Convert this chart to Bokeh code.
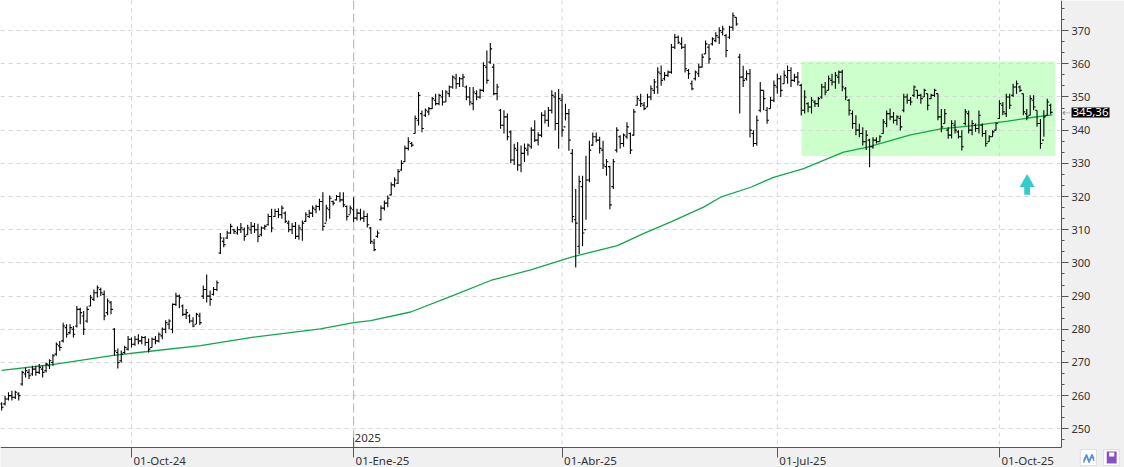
from bokeh.plotting import figure
from bokeh.models import (Range1d, SingleIntervalTicker, FixedTicker, Span, Label,
                          BoxAnnotation, ColumnDataSource)
from bokeh.embed import file_html
from bokeh.resources import INLINE

# ---------------- data (daily OHLC, one entry per trading day) ----------------
high = [258, 260, 261, 261.5, 261.5, 261, 267.5, 268.5, 268, 269, 269, 269.5, 269, 270, 271, 272.5, 276, 276.5, 282, 281.5,
        281.5, 281, 287, 286.5, 285.5, 286.9, 290.3, 292, 293.2, 292.5, 291.7, 289.3, 288.5, 280.4, 274.2, 273.6, 275, 278, 277.5, 278,
        278.5, 278, 278, 277.2, 277.5, 278, 279, 280.5, 282.7, 283, 287.8, 291, 290.5, 287.5, 286.1, 284.5, 283.6, 285, 285, 293.2,
        296.5, 291.7, 292.7, 294.7, 309, 307.7, 309.7, 311.8, 310.3, 311, 312, 310.7, 311.5, 312.3, 312, 311.8, 311, 311.5, 314.8, 316.3,
        316.3, 316.5, 317.3, 315.5, 312.8, 312, 312.3, 311.5, 312.8, 315.3, 316, 317.3, 317.5, 319.3, 321.3, 317.5, 320.3, 318.8, 320.5, 321.3,
        321.3, 317.3, 317.3, 319.8, 316.3, 316.3, 315.8, 315, 310.8, 307.2, 309.8, 317.3, 318.8, 320.3, 324.3, 325.8, 328.3, 330.9, 335.4, 337.9,
        336.4, 344.4, 351.5, 345.9, 346.5, 347, 350, 351, 351, 352, 352, 353.5, 356.5, 357, 356, 357, 353.5, 353, 353, 352,
        352.5, 360.5, 364, 366.3, 360, 354, 346.4, 346, 345, 340, 335.9, 336.4, 335.4, 336, 336, 340.9, 343, 339.4, 345.4, 346,
        347, 352, 351.5, 352.4, 351, 348, 346.4, 334.3, 322.3, 326.3, 326.3, 332.3, 336.8, 339.3, 339.3, 338, 336.8, 331.3, 329.3, 331.3,
        340.9, 338.5, 339, 342.4, 339.3, 346.4, 350.4, 351, 348.5, 351, 353.5, 355.4, 359, 359.5, 357.5, 358, 366, 369, 368.5, 368,
        366, 358.4, 355, 358, 360, 363, 367, 366, 368, 369.5, 371, 371.5, 369, 371.5, 375.5, 374, 363, 359.4, 358, 358.4,
        340, 344.4, 354.5, 352, 347, 350, 355, 357, 356.5, 358, 359.5, 359, 357, 357.5, 354, 352, 348.4, 350, 349, 350,
        354, 354.5, 356.5, 357, 357.5, 358, 358.2, 353, 349.4, 345.9, 344.5, 341.9, 340.9, 340, 337.4, 337.9, 337.9, 338.5, 343.4, 345.9,
        346.5, 345.5, 344.5, 344.4, 351, 351, 350, 353.5, 352, 351, 352.5, 351, 351, 352.5, 351, 346.4, 346.4, 340.9, 343, 343,
        340, 340, 346.4, 345.9, 343, 342, 345.9, 342, 340, 338.5, 340, 342.4, 349, 348.5, 351, 351, 354, 355, 353.5, 351,
        346.4, 350.5, 350.5, 346, 343.4, 346, 349.5, 348]
low = [255.5, 257, 258.5, 258.5, 259, 258.5, 263, 265.5, 265, 266, 266, 266.5, 265.5, 267, 268, 269, 272, 273.5, 276, 277.5,
       278.5, 277.5, 280.5, 281.5, 278.3, 282, 286.9, 288.5, 289.6, 290, 282.7, 284.2, 284.5, 272, 268.2, 270, 272.6, 273.6, 274.5, 275,
       275.5, 275.5, 275, 273, 274.5, 275.5, 276, 277, 278.8, 280, 278.8, 287, 286.3, 284, 283.1, 281.8, 280.6, 281.6, 281.3, 289.1,
       288.1, 287.1, 290.2, 291.5, 302.7, 304.7, 307.2, 308.7, 308.7, 308.5, 309, 306.7, 308.5, 308.7, 309, 306.2, 308, 310, 311.3, 309.2,
       313.8, 313.5, 313.3, 312, 309.2, 308.7, 307.2, 307, 306.7, 312.3, 313.5, 313.8, 315, 315.8, 309.7, 312.5, 313.3, 317.3, 318.8, 318.3,
       316.8, 312.8, 314.8, 312.3, 312.8, 312.8, 312.3, 310.7, 305.7, 303.5, 307.6, 312.8, 315.8, 316.8, 320.3, 322.8, 323.8, 327.8, 330.4, 333.9,
       334.9, 338.9, 341.4, 339.4, 344, 344.5, 346.4, 347.4, 347.5, 347.4, 348.5, 350, 352.5, 352.5, 353, 353, 349, 347.4, 346, 349,
       349.5, 351.5, 354, 360, 350.5, 349, 340.4, 339, 337, 330, 329.5, 327.8, 327.3, 330.4, 332.4, 334.4, 336.4, 335.4, 337.9, 342,
       341, 345, 340, 334.4, 338, 342.9, 333.8, 312.2, 298.6, 302.7, 305, 313, 324.3, 335.3, 336.3, 333, 328.3, 326.3, 316.2, 322.3,
       333.3, 334.5, 335, 337.4, 332.8, 338.3, 347.4, 347, 346, 347, 349, 350.9, 351, 353.4, 355, 356, 357, 364.5, 366, 364.5,
       357.4, 355.5, 352, 355, 356, 359, 363, 360, 365.5, 366.5, 366, 368.5, 362, 367.5, 370, 371.5, 345, 353, 355, 337.8,
       335, 335.3, 345.4, 346, 341.9, 346.5, 348.4, 351, 350, 354, 354, 353, 354.5, 353.5, 344.4, 345, 345.4, 345, 347, 347,
       349.5, 350.5, 352, 353.5, 352.5, 354, 351.7, 349, 344.4, 340.4, 338.5, 337.9, 335.4, 334, 328.8, 334.4, 336, 336.5, 338.9, 340.9,
       343, 342, 341.5, 339.9, 345.4, 348, 347.5, 350, 349.5, 348, 350, 346, 349.5, 350, 343, 339.4, 342, 337.4, 337.5, 339,
       337.5, 333.9, 341.4, 339, 338.5, 339.5, 339, 338, 335, 336.5, 338, 339.9, 343.4, 344.5, 344, 346.4, 350, 351, 351.5, 344.5,
       343, 344.4, 346, 341, 334.4, 338, 344.4, 344.8]
open_ = [257.5, 257.5, 259, 260, 259.5, 260.5, 263.5, 266.5, 267, 266.5, 268, 267, 268, 267.5, 269, 270, 272.5, 275, 276.5, 280.5,
         279, 280, 281, 286, 284, 282.5, 287, 289, 291, 292, 290.5, 285, 288, 280, 273, 270.5, 273, 274, 277, 275.5,
         277, 276.5, 277.5, 276, 274.5, 277, 276.5, 278, 280, 281.5, 280, 287.5, 290, 287, 284.5, 284, 282.5, 281.5, 284, 290,
         292, 290, 290.5, 292, 303, 306.5, 307.5, 309, 310, 309, 310, 310, 308.5, 310, 311, 310, 308.5, 310.5, 311.5, 314,
         314, 315.5, 314.5, 315, 312, 310, 311, 308, 310, 312.5, 314, 315, 316, 317, 318.5, 312, 316, 318.5, 319, 320,
         319, 317, 314.5, 316, 313.5, 315, 313.5, 314, 310.5, 306, 308, 313, 316.5, 318, 320.5, 323.5, 324, 328, 330.5, 334.5,
         336, 339, 343, 345, 344.5, 345.5, 346.5, 349, 348, 350, 348.5, 351, 353, 355.5, 354, 355.5, 353, 350, 348, 351,
         350, 352, 359, 360.5, 359, 351, 346, 341.5, 344, 339.5, 331, 334, 329.5, 333, 334, 335, 340, 337, 338.5, 344.5,
         343, 346, 350, 342, 349, 341, 345, 333, 313, 305, 323, 310, 325, 335.5, 338, 337, 334, 329, 329, 323,
         334, 338, 336, 338, 339, 338.5, 347.5, 349, 347.5, 347, 350, 352, 353, 357, 355.5, 356.5, 357.5, 365, 368, 366,
         365, 358, 354, 355.5, 357, 359, 363, 365, 366, 367, 368, 369.5, 368.5, 368, 371, 374, 362, 356, 355.5, 357,
         339, 336, 346, 352, 346, 346.5, 349, 353, 355.5, 354, 356, 358, 355, 356, 353.5, 346, 348, 347, 348.5, 348,
         350, 353, 352, 355, 354.5, 356, 357.5, 352.5, 349, 345, 342, 340, 339, 336.5, 337, 335, 337, 336.5, 339, 342,
         345, 344, 343, 343.5, 346, 350, 349, 350.5, 352, 350.5, 350, 351, 349.5, 350.5, 351, 344, 342, 340, 338.5, 341.5,
         339.5, 338, 342, 345, 340, 341.5, 340.5, 341.5, 339, 336.5, 338, 340, 343.5, 347.5, 345, 350, 350.5, 353, 353, 351,
         345, 344.5, 349, 346, 342, 337, 344.5, 347.5]
close = [256.5, 259, 260, 259.5, 261, 260, 267, 267.5, 266, 268, 267, 268.5, 267, 269.5, 270.5, 272, 275.5, 274.5, 281, 278.5,
         280.5, 278.5, 286, 285, 280, 286, 289.5, 291, 292.5, 291, 284, 288.5, 286, 273.5, 270, 272.5, 274.5, 277, 275.5, 277,
         276.5, 277.5, 276, 274, 277, 276.5, 278.5, 280, 282, 282.5, 287.5, 290, 289.5, 284.5, 285, 282.5, 281, 284.5, 282, 292,
         290, 289, 292, 294, 307.5, 305.5, 309, 311, 309.5, 310, 310.5, 308, 310.5, 311, 310, 308, 310.5, 311, 314, 310.5,
         315.5, 314.5, 316.5, 312.5, 310, 311, 308, 310.5, 312, 314.5, 315, 316.5, 317, 318.5, 311, 316.5, 319.5, 318, 320, 319,
         317.5, 314, 316.5, 313.5, 315, 313.5, 314, 311.5, 306.5, 304, 309, 316.5, 318, 319.5, 323.5, 325, 327.5, 330, 334.5, 336.5,
         335.5, 343.5, 350.5, 340.5, 346, 346.5, 349.5, 348, 350.5, 348.5, 351.5, 353, 356, 354, 355.5, 356, 350, 348.5, 351.5, 350,
         352, 359.5, 355, 364.5, 351, 353, 341.5, 344, 338, 331, 334.5, 329.5, 333, 334.5, 335.5, 340, 337, 338.5, 344.5, 343,
         346, 350.5, 342, 349.5, 340, 345, 337, 314, 312, 324.5, 309, 325, 334, 338, 337, 334.5, 329.5, 330.5, 317.5, 330.5,
         340, 336, 338.5, 341, 334, 345.5, 349.5, 348, 346.5, 350, 352.5, 354.5, 357.5, 355, 356.5, 357.5, 365, 368, 366.5, 365,
         358.5, 357, 352.5, 357.5, 359, 362, 366, 361.5, 367.5, 368.5, 370, 370.5, 364, 371, 374.5, 372, 356, 355, 357, 340,
         336, 343, 352, 349.5, 343, 349, 353.5, 355.5, 352, 356.5, 358, 355, 356, 354.5, 346, 350, 347, 349, 348, 349.5,
         353, 351.5, 355.5, 354.5, 356.5, 357.5, 353, 350, 346, 342, 340, 339, 336.5, 338.5, 335, 337, 336.5, 338, 342.5, 345,
         344, 343, 344, 341, 350, 349, 348.5, 353, 350.5, 349.5, 352, 347.5, 350.5, 352, 344, 341, 345, 338.5, 342, 340,
         338, 335, 345.5, 340, 342, 340.5, 344.5, 339, 336, 338, 339.5, 342, 348, 345.5, 350, 347.5, 353, 354, 352, 345.5,
         344, 349.5, 347, 342, 336, 344, 348.5, 345.36]

# 200-session moving average (bar index, value)
sma_idx = [0, 14.3, 32.7, 42.7, 58.2, 73.7, 93.3, 103, 108, 119.7, 132.2, 143.1, 154.8, 166.5, 180.2, 187.8,
           195.7, 205.4, 210.4, 219.2, 225.9, 234.7, 240.5, 246.4, 253.4, 266, 274.8, 284.4, 294.4, 302, 307.5]
sma_val = [267.6, 269.3, 272.1, 273.3, 275.1, 277.6, 280.1, 282.0, 282.6, 285.2, 290.2, 294.7, 297.9, 301.7, 305.2, 308.8,
           312.3, 316.8, 319.8, 322.8, 325.8, 328.4, 330.9, 333.4, 334.9, 338.6, 340.4, 341.4, 342.7, 343.9, 344.6]

tick_idx = [38, 103, 164, 227, 292]
tick_labels = ["01-Oct-24", "01-Ene-25", "01-Abr-25", "01-Jul-25", "01-Oct-25"]
year_idx = 103
year_label = "2025"

zone_left, zone_right = 234.1, 308.4
zone_bottom, zone_top = 332.2, 360.7
last_price = 345.36
last_label = "345,36"
arrow_idx = [300.1]
arrow_head_y = [324.2]
arrow_stem_y = [321.7]

# ---------------- layout geometry (plot frame = whole canvas) ----------------
X_START, X_END = -0.34, 328.6          # whole canvas width in bar units
Y_START, Y_END = 238.34, 379.08        # whole canvas height in price units
X_AXIS_AT = 310.17                     # where the price scale sits
Y_AXIS_AT = 244.36                     # where the date scale sits
FONT = "Noto Sans"
PANEL = "#f0f0f0"

# toolbar-like icons in the bottom-right corner (bar units / price units)
icon_boxes = [(315.7, 320.4), (322.5, 327.1)]
icon_bottom, icon_top = 238.94, 243.76
zig_x = [316.6, 317.5, 318.2, 319.1, 319.7]
zig_y1 = [240.4, 242.3, 240.4, 242.3, 240.9]
zig_y2 = [239.8, 241.7, 239.8, 241.7, 240.3]

p = figure(width=1124, height=467, output_backend="svg", toolbar_location=None,
           x_range=Range1d(X_START, X_END), y_range=Range1d(Y_START, Y_END),
           y_axis_location="right", x_axis_location="below",
           min_border_left=0, min_border_top=0, min_border_right=0, min_border_bottom=0)
p.outline_line_color = None
p.background_fill_color = "white"
p.border_fill_color = PANEL

# green consolidation zone
p.add_layout(BoxAnnotation(left=zone_left, right=zone_right, bottom=zone_bottom, top=zone_top,
                           fill_color="#ccffcc", fill_alpha=1.0, line_color=None, level="image"))

# grids
yt = SingleIntervalTicker(interval=10, num_minor_ticks=3)
p.ygrid.ticker = yt
p.ygrid.grid_line_color = "#d6d6d6"
p.ygrid.grid_line_dash = "4 4"
p.xgrid.visible = False
for t in tick_idx:
    if t == year_idx:
        p.add_layout(Span(location=t, dimension="height", line_color="#bdbdbd",
                          line_dash="9 4", line_width=1.2, level="underlay"))
    else:
        p.add_layout(Span(location=t, dimension="height", line_color="#d6d6d6",
                          line_dash="4 4", line_width=1, level="underlay"))

# moving average
p.line(sma_idx, sma_val, line_color="#10a84a", line_width=1.3)

# OHLC bars
idx = list(range(len(high)))
src = ColumnDataSource(dict(x=idx, h=high, l=low, o=open_, c=close,
                            xl=[i - 0.55 for i in idx], xr=[i + 0.55 for i in idx]))
p.segment(x0="x", y0="l", x1="x", y1="h", source=src, line_color="black", line_width=1.1)
p.segment(x0="xl", y0="o", x1="x", y1="o", source=src, line_color="black", line_width=1.1)
p.segment(x0="x", y0="c", x1="xr", y1="c", source=src, line_color="black", line_width=1.1)

# cyan arrow
p.rect(x=arrow_idx, y=arrow_stem_y, width=1.7, height=2.3, fill_color="#33cccc", line_color=None)
p.scatter(x=arrow_idx, y=arrow_head_y, marker="triangle", size=15, fill_color="#33cccc", line_color=None)

# side panels (price scale at right, date strip at bottom)
p.add_layout(BoxAnnotation(left=X_AXIS_AT, right=X_END + 10, bottom=Y_START - 10, top=Y_END + 10,
                           fill_color=PANEL, fill_alpha=1.0, line_color=None, level="glyph"))
p.add_layout(BoxAnnotation(left=X_START - 10, right=X_END + 10, bottom=Y_START - 10, top=Y_AXIS_AT,
                           fill_color=PANEL, fill_alpha=1.0, line_color=None, level="glyph"))

# price axis
ya = p.yaxis[0]
ya.fixed_location = X_AXIS_AT
ya.bounds = (Y_AXIS_AT, 382)
ya.ticker = yt
ya.axis_line_color = "#555555"
ya.major_tick_line_color = "#555555"
ya.minor_tick_line_color = "#555555"
ya.major_tick_out = 7
ya.major_tick_in = 0
ya.minor_tick_out = 3
ya.minor_tick_in = 0
ya.major_label_standoff = 3
ya.major_label_text_font = FONT
ya.major_label_text_font_size = "11px"
ya.major_label_text_color = "#333333"

# date axis (labels drawn left-aligned next to the ticks)
xa = p.xaxis[0]
xa.fixed_location = Y_AXIS_AT
xa.bounds = (X_START, X_AXIS_AT)
xa.ticker = FixedTicker(ticks=tick_idx)
xa.major_label_text_color = None
xa.axis_line_color = "#555555"
xa.major_tick_line_color = "#555555"
xa.major_tick_out = 10
xa.major_tick_in = 0
xa.minor_tick_out = 0
for t, lab in zip(tick_idx, tick_labels):
    p.add_layout(Label(x=t, y=240.45, text=lab, x_offset=2, text_baseline="middle",
                       text_font=FONT, text_font_size="11.5px", text_color="#333333"))

# year marker
p.segment(x0=[year_idx], y0=[Y_AXIS_AT], x1=[year_idx], y1=[247.3], line_color="#555555", line_width=1)
p.add_layout(Label(x=year_idx, y=247.2, text=year_label, x_offset=1, text_baseline="middle",
                   text_font=FONT, text_font_size="11.5px", text_color="#333333"))

# last price flag (green underline + black box)
p.add_layout(Label(x=313.1, y=last_price, text=last_label, text_baseline="middle", y_offset=-2,
                   text_font=FONT, text_font_size="11.5px", text_alpha=0.0,
                   background_fill_color="#10a84a", padding=1))
p.add_layout(Label(x=313.1, y=last_price, text=last_label, text_baseline="middle",
                   text_font=FONT, text_font_size="11.5px", text_color="white",
                   background_fill_color="black", padding=1))
p.add_layout(Label(x=310.3, y=last_price, text="\u21e0", text_baseline="middle",
                   text_font=FONT, text_font_size="10px", text_color="#888888"))

# bottom-right icons
for (l, r) in icon_boxes:
    p.add_layout(BoxAnnotation(left=l, right=r, bottom=icon_bottom, top=icon_top,
                               fill_color="white", fill_alpha=1.0, line_color="#a8a8a8",
                               line_width=1, level="annotation"))
p.add_layout(BoxAnnotation(left=323.4, right=326.3, bottom=239.55, top=243.16,
                           fill_color="#8a4fc8", fill_alpha=1.0, line_color=None, level="annotation"))
p.add_layout(BoxAnnotation(left=324.1, right=325.6, bottom=241.65, top=242.86,
                           fill_color="white", fill_alpha=1.0, line_color=None, level="overlay"))
z1 = p.line(zig_x, zig_y1, line_color="#5a8fd8", line_width=1.2, level="overlay")
z2 = p.line(zig_x, zig_y2, line_color="#5a8fd8", line_width=1.2, level="overlay")

open("out.html", "w").write(file_html(p, INLINE))
